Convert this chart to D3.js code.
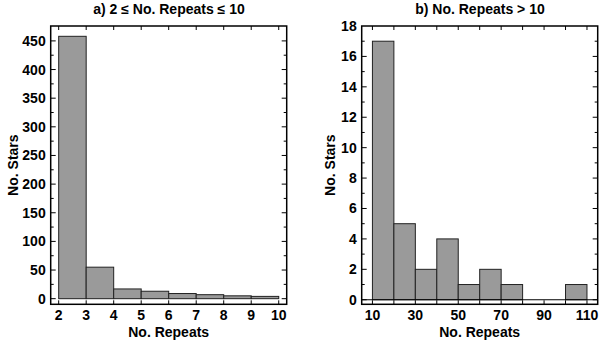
<!DOCTYPE html>
<html>
<head>
<meta charset="utf-8">
<script src="https://cdn.jsdelivr.net/npm/d3@7"></script>
<style>
  body { margin: 0; background: #fff; }
  svg { display: block; font-family: 'Liberation Sans', Arial, sans-serif; font-weight: bold; }
</style>
</head>
<body>
<div class="chart"></div>
<script>
// panel a: 2 <= repeats <= 10
const binsA = [2, 3, 4, 5, 6, 7, 8, 9];
const countsA = [458, 55, 17, 13, 9, 7, 5, 4];
const xTicksA = [2, 3, 4, 5, 6, 7, 8, 9, 10];
const yTicksA = [0, 50, 100, 150, 200, 250, 300, 350, 400, 450];

// panel b: repeats > 10
const binsB = [10, 20, 30, 40, 50, 60, 70, 80, 90, 100];
const countsB = [17, 5, 2, 4, 1, 2, 1, 0, 0, 1];
const xTicksB = [10, 30, 50, 70, 90, 110];
const yTicksB = [0, 2, 4, 6, 8, 10, 12, 14, 16, 18];

const config = { width: 600, height: 342, fontSize: 14 };

const svg = d3.select('.chart')
  .append('svg')
  .attr('width', config.width)
  .attr('height', config.height);

function panel(opts) {
  const g = svg.append('g');
  const x = d3.scaleLinear().domain(opts.xDomain).range([opts.left, opts.right]);
  const y = d3.scaleLinear().domain(opts.yDomain).range([opts.bottom, opts.top]);

  // bars
  g.append('g')
    .selectAll('rect')
    .data(opts.bins.map((b, i) => ({ x0: b, x1: b + opts.binWidth, n: opts.counts[i] })))
    .enter()
    .append('rect')
    .filter(d => d.n > 0)
    .attr('x', d => x(d.x0))
    .attr('y', d => y(d.n))
    .attr('width', d => x(d.x1) - x(d.x0))
    .attr('height', d => y(0) - y(d.n))
    .attr('fill', '#9a9a9a')
    .attr('stroke', '#222')
    .attr('stroke-width', 1);

  if (opts.zeroLine) {
    g.append('line')
      .attr('x1', opts.left).attr('x2', opts.right)
      .attr('y1', y(0)).attr('y2', y(0))
      .attr('stroke', '#000').attr('stroke-width', 1.2);
  }

  const tick = (sel) => sel.attr('stroke', '#000').attr('stroke-width', 1);

  // x ticks (bottom and top, pointing inward)
  const xm = d3.range(Math.ceil(opts.xDomain[0] / opts.xMinorStep) * opts.xMinorStep, opts.xDomain[1], opts.xMinorStep);
  xm.forEach(v => {
    tick(g.append('line').attr('x1', x(v)).attr('x2', x(v)).attr('y1', opts.bottom).attr('y2', opts.bottom - 4));
    tick(g.append('line').attr('x1', x(v)).attr('x2', x(v)).attr('y1', opts.top).attr('y2', opts.top + 4));
  });

  // y ticks (left and right)
  const ym = d3.range(Math.ceil(opts.yDomain[0] / opts.yMinorStep) * opts.yMinorStep, opts.yDomain[1] + 1e-9, opts.yMinorStep);
  ym.forEach(v => {
    const len = opts.yTicks.includes(v) ? 5 : 3;
    if (y(v) < opts.top + 1) return;
    tick(g.append('line').attr('x1', opts.left).attr('x2', opts.left + len).attr('y1', y(v)).attr('y2', y(v)));
    tick(g.append('line').attr('x1', opts.right).attr('x2', opts.right - len).attr('y1', y(v)).attr('y2', y(v)));
  });

  // frame
  g.append('rect')
    .attr('x', opts.left).attr('y', opts.top)
    .attr('width', opts.right - opts.left).attr('height', opts.bottom - opts.top)
    .attr('fill', 'none').attr('stroke', '#000').attr('stroke-width', 1.5);

  // tick labels
  g.append('g').selectAll('text')
    .data(opts.xTicks).enter().append('text')
    .attr('x', d => x(d)).attr('y', opts.bottom + 16)
    .attr('text-anchor', 'middle').attr('font-size', config.fontSize)
    .text(d => d);

  g.append('g').selectAll('text')
    .data(opts.yTicks).enter().append('text')
    .attr('x', opts.left - 5).attr('y', d => y(d) + 5)
    .attr('text-anchor', 'end').attr('font-size', config.fontSize)
    .text(d => d);

  // axis titles
  g.append('text')
    .attr('x', (opts.left + opts.right) / 2).attr('y', opts.bottom + 32.5)
    .attr('text-anchor', 'middle').attr('font-size', config.fontSize)
    .text('No. Repeats');

  g.append('text')
    .attr('transform', `translate(${opts.yLabelX},${(opts.top + opts.bottom) / 2}) rotate(-90)`)
    .attr('text-anchor', 'middle').attr('font-size', config.fontSize)
    .text('No. Stars');

  g.append('text')
    .attr('x', opts.titleX).attr('y', 14)
    .attr('text-anchor', 'middle').attr('font-size', config.fontSize)
    .text(opts.title);
}

panel({
  bins: binsA, counts: countsA, binWidth: 1,
  xTicks: xTicksA, yTicks: yTicksA,
  xDomain: [1.71, 10.29], yDomain: [-9.8, 476],
  xMinorStep: 1, yMinorStep: 25,
  left: 50.7, right: 286.7, top: 26, bottom: 304.3,
  yLabelX: 18, titleX: 169,
  title: 'a) 2 \u2264 No. Repeats \u2264 10'
});

panel({
  bins: binsB, counts: countsB, binWidth: 10,
  xTicks: xTicksB, yTicks: yTicksB,
  xDomain: [5, 115], yDomain: [-0.3, 18],
  xMinorStep: 10, yMinorStep: 1,
  left: 361.7, right: 597.7, top: 26, bottom: 304.3,
  yLabelX: 335, titleX: 480,
  title: 'b) No. Repeats > 10',
  zeroLine: true
});
</script>
</body>
</html>
